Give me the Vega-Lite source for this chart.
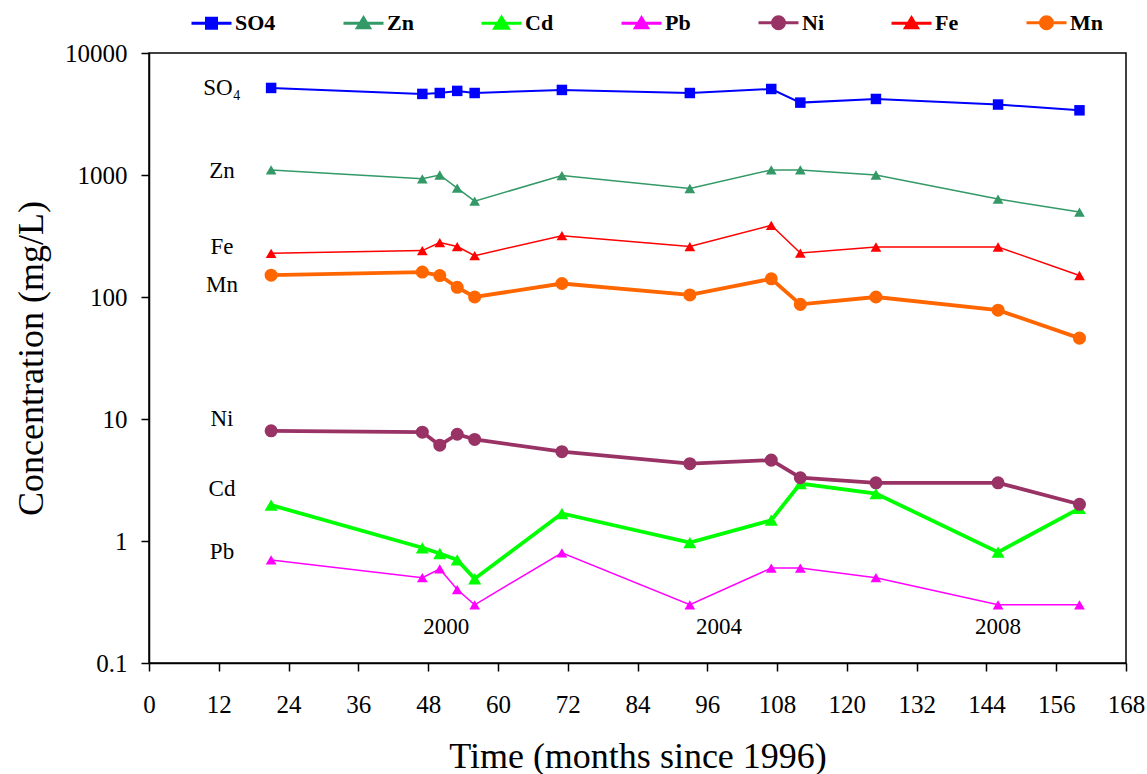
{
  "$schema": "https://vega.github.io/schema/vega-lite/v6.json",
  "width": 977,
  "height": 610,
  "autosize": {"type": "none"},
  "padding": {"left": 149, "top": 53, "right": 21, "bottom": 111},
  "background": "white",
  "config": {
    "view": {"stroke": "black", "strokeWidth": 1.5},
    "font": "Liberation Serif",
    "axis": {"labelFont": "Liberation Serif", "titleFont": "Liberation Serif"},
    "legend": {
      "labelFont": "Liberation Serif", "titleFont": "Liberation Serif",
      "labelFontSize": 22, "labelFontWeight": "bold", "labelColor": "black",
      "symbolSize": 1600, "symbolStrokeWidth": 3, "labelOffset": 2, "columnPadding": 61
    },
    "text": {"font": "Liberation Serif"}
  },
  "datasets": {
    "conc": [
      {"t": 21, "series": "SO4", "v": 5170}, {"t": 47, "series": "SO4", "v": 4620}, {"t": 50, "series": "SO4", "v": 4700}, {"t": 53, "series": "SO4", "v": 4890}, {"t": 56, "series": "SO4", "v": 4700}, {"t": 71, "series": "SO4", "v": 4980}, {"t": 93, "series": "SO4", "v": 4700}, {"t": 107, "series": "SO4", "v": 5070}, {"t": 112, "series": "SO4", "v": 3920}, {"t": 125, "series": "SO4", "v": 4200}, {"t": 146, "series": "SO4", "v": 3780}, {"t": 160, "series": "SO4", "v": 3390},
      {"t": 21, "series": "Zn", "v": 1100}, {"t": 47, "series": "Zn", "v": 930}, {"t": 50, "series": "Zn", "v": 1000}, {"t": 53, "series": "Zn", "v": 780}, {"t": 56, "series": "Zn", "v": 610}, {"t": 71, "series": "Zn", "v": 990}, {"t": 93, "series": "Zn", "v": 775}, {"t": 107, "series": "Zn", "v": 1100}, {"t": 112, "series": "Zn", "v": 1100}, {"t": 125, "series": "Zn", "v": 1000}, {"t": 146, "series": "Zn", "v": 635}, {"t": 160, "series": "Zn", "v": 497},
      {"t": 21, "series": "Cd", "v": 1.97}, {"t": 47, "series": "Cd", "v": 0.88}, {"t": 50, "series": "Cd", "v": 0.79}, {"t": 53, "series": "Cd", "v": 0.7}, {"t": 56, "series": "Cd", "v": 0.49}, {"t": 71, "series": "Cd", "v": 1.68}, {"t": 93, "series": "Cd", "v": 0.97}, {"t": 107, "series": "Cd", "v": 1.48}, {"t": 112, "series": "Cd", "v": 2.96}, {"t": 125, "series": "Cd", "v": 2.45}, {"t": 146, "series": "Cd", "v": 0.81}, {"t": 160, "series": "Cd", "v": 1.85},
      {"t": 21, "series": "Pb", "v": 0.7}, {"t": 47, "series": "Pb", "v": 0.5}, {"t": 50, "series": "Pb", "v": 0.59}, {"t": 53, "series": "Pb", "v": 0.4}, {"t": 56, "series": "Pb", "v": 0.3}, {"t": 71, "series": "Pb", "v": 0.8}, {"t": 93, "series": "Pb", "v": 0.3}, {"t": 107, "series": "Pb", "v": 0.6}, {"t": 112, "series": "Pb", "v": 0.6}, {"t": 125, "series": "Pb", "v": 0.5}, {"t": 146, "series": "Pb", "v": 0.3}, {"t": 160, "series": "Pb", "v": 0.3},
      {"t": 21, "series": "Ni", "v": 8.0}, {"t": 47, "series": "Ni", "v": 7.8}, {"t": 50, "series": "Ni", "v": 6.1}, {"t": 53, "series": "Ni", "v": 7.5}, {"t": 56, "series": "Ni", "v": 6.8}, {"t": 71, "series": "Ni", "v": 5.4}, {"t": 93, "series": "Ni", "v": 4.3}, {"t": 107, "series": "Ni", "v": 4.6}, {"t": 112, "series": "Ni", "v": 3.3}, {"t": 125, "series": "Ni", "v": 3.0}, {"t": 146, "series": "Ni", "v": 3.0}, {"t": 160, "series": "Ni", "v": 2.0},
      {"t": 21, "series": "Fe", "v": 228}, {"t": 47, "series": "Fe", "v": 240}, {"t": 50, "series": "Fe", "v": 279}, {"t": 53, "series": "Fe", "v": 259}, {"t": 56, "series": "Fe", "v": 218}, {"t": 71, "series": "Fe", "v": 318}, {"t": 93, "series": "Fe", "v": 259}, {"t": 107, "series": "Fe", "v": 387}, {"t": 112, "series": "Fe", "v": 229}, {"t": 125, "series": "Fe", "v": 257}, {"t": 146, "series": "Fe", "v": 257}, {"t": 160, "series": "Fe", "v": 150},
      {"t": 21, "series": "Mn", "v": 151}, {"t": 47, "series": "Mn", "v": 160}, {"t": 50, "series": "Mn", "v": 150}, {"t": 53, "series": "Mn", "v": 120}, {"t": 56, "series": "Mn", "v": 100}, {"t": 71, "series": "Mn", "v": 129}, {"t": 93, "series": "Mn", "v": 104}, {"t": 107, "series": "Mn", "v": 141}, {"t": 112, "series": "Mn", "v": 87}, {"t": 125, "series": "Mn", "v": 100}, {"t": 146, "series": "Mn", "v": 78}, {"t": 160, "series": "Mn", "v": 46}
    ],
    "labels": [
      {"t": 12.55, "v": 5165, "label": "SO₄"},
      {"t": 12.55, "v": 1079, "label": "Zn"},
      {"t": 12.55, "v": 257, "label": "Fe"},
      {"t": 12.55, "v": 125, "label": "Mn"},
      {"t": 12.55, "v": 10, "label": "Ni"},
      {"t": 12.55, "v": 2.67, "label": "Cd"},
      {"t": 12.55, "v": 0.81, "label": "Pb"},
      {"t": 51.1, "v": 0.197, "label": "2000"},
      {"t": 98.0, "v": 0.197, "label": "2004"},
      {"t": 146.0, "v": 0.197, "label": "2008"}
    ]
  },
  "encoding": {
    "x": {
      "field": "t", "type": "quantitative",
      "scale": {"domain": [0, 168], "nice": false, "zero": false},
      "axis": {
        "title": "Time (months since 1996)",
        "values": [0, 12, 24, 36, 48, 60, 72, 84, 96, 108, 120, 132, 144, 156, 168],
        "grid": false, "labelFlush": false, "labelOverlap": false,
        "labelFont": "Liberation Serif", "labelFontSize": 25, "labelColor": "black", "labelPadding": 21,
        "titleFont": "Liberation Serif", "titleFontSize": 36, "titleFontWeight": "normal", "titleColor": "black", "titlePadding": 22,
        "tickSize": 8, "tickColor": "black", "tickWidth": 1.5, "domainColor": "black", "domainWidth": 1.5
      }
    },
    "y": {
      "field": "v", "type": "quantitative",
      "scale": {"type": "log", "domain": [0.1, 10000], "nice": false},
      "axis": {
        "title": "Concentration (mg/L)",
        "values": [0.1, 1, 10, 100, 1000, 10000],
        "format": "~g",
        "grid": false, "labelFlush": false, "labelOverlap": false,
        "labelFont": "Liberation Serif", "labelFontSize": 25, "labelColor": "black", "labelPadding": 14,
        "titleFont": "Liberation Serif", "titleFontSize": 36, "titleFontWeight": "normal", "titleColor": "black", "titlePadding": 14,
        "tickSize": 8, "tickColor": "black", "tickWidth": 1.5, "domainColor": "black", "domainWidth": 1.5
      }
    },
    "color": {
      "field": "series", "type": "nominal",
      "scale": {"domain": ["SO4", "Zn", "Cd", "Pb", "Ni", "Fe", "Mn"], "range": ["#0000FF", "#339966", "#00FF00", "#FF00FF", "#993366", "#FF0000", "#FF6600"]},
      "legend": {
        "orient": "none", "legendX": 41, "legendY": -52, "direction": "horizontal",
        "title": null,
        "labelFont": "Liberation Serif", "labelFontSize": 22, "labelFontWeight": "bold", "labelColor": "black",
        "symbolSize": 1600, "symbolStrokeWidth": 3, "labelOffset": 2, "columnPadding": 61,
        "encode": {
          "labels": {
            "update": {
              "font": {"value": "Liberation Serif"},
              "fontWeight": {"value": "bold"},
              "fontSize": {"value": 22}
            }
          },
          "symbols": {
            "update": {
              "shape": {"signal": "datum.value === 'SO4' ? 'M-1,0H1M-0.25,-0.25H0.25V0.25H-0.25Z' : datum.value === 'Cd' ? 'M-1,0H1M0,-0.3L0.34,0.25L-0.34,0.25Z' : (datum.value === 'Ni' || datum.value === 'Mn') ? 'M-1,0H1M-0.3,0A0.3,0.3 0 1,0 0.3,0A0.3,0.3 0 1,0 -0.3,0Z' : 'M-1,0H1M0,-0.27L0.3,0.22L-0.3,0.22Z'"},
              "size": {"value": 1600},
              "strokeWidth": {"value": 3},
              "opacity": {"value": 1},
              "fillOpacity": {"value": 1},
              "strokeOpacity": {"value": 1},
              "stroke": {"scale": "color", "field": "value"},
              "fill": {"scale": "color", "field": "value"}
            }
          }
        }
      }
    }
  },
  "layer": [
    {
      "data": {"name": "conc"},
      "transform": [{"filter": "datum.series === 'Zn' || datum.series === 'Pb' || datum.series === 'Fe'"}],
      "mark": {"type": "line", "strokeWidth": 1.5}
    },
    {
      "data": {"name": "conc"},
      "transform": [{"filter": "datum.series === 'SO4'"}],
      "mark": {"type": "line", "strokeWidth": 2}
    },
    {
      "data": {"name": "conc"},
      "transform": [{"filter": "datum.series === 'Cd' || datum.series === 'Ni' || datum.series === 'Mn'"}],
      "mark": {"type": "line", "strokeWidth": 3.8}
    },
    {
      "data": {"name": "conc"},
      "transform": [{"filter": "datum.series === 'SO4'"}],
      "mark": {"type": "point", "shape": "square", "filled": true, "opacity": 1, "size": 110}
    },
    {
      "data": {"name": "conc"},
      "transform": [{"filter": "datum.series === 'Zn' || datum.series === 'Pb' || datum.series === 'Fe'"}],
      "mark": {"type": "point", "shape": "triangle-up", "filled": true, "opacity": 1, "size": 115}
    },
    {
      "data": {"name": "conc"},
      "transform": [{"filter": "datum.series === 'Cd'"}],
      "mark": {"type": "point", "shape": "triangle-up", "filled": true, "opacity": 1, "size": 170}
    },
    {
      "data": {"name": "conc"},
      "transform": [{"filter": "datum.series === 'Ni' || datum.series === 'Mn'"}],
      "mark": {"type": "point", "shape": "circle", "filled": true, "opacity": 1, "size": 170}
    },
    {
      "data": {"name": "labels"},
      "mark": {"type": "text", "font": "Liberation Serif", "fontSize": 23, "color": "black", "align": "center", "baseline": "middle"},
      "encoding": {
        "text": {"field": "label", "type": "nominal"},
        "color": {"value": "black"}
      }
    }
  ]
}
